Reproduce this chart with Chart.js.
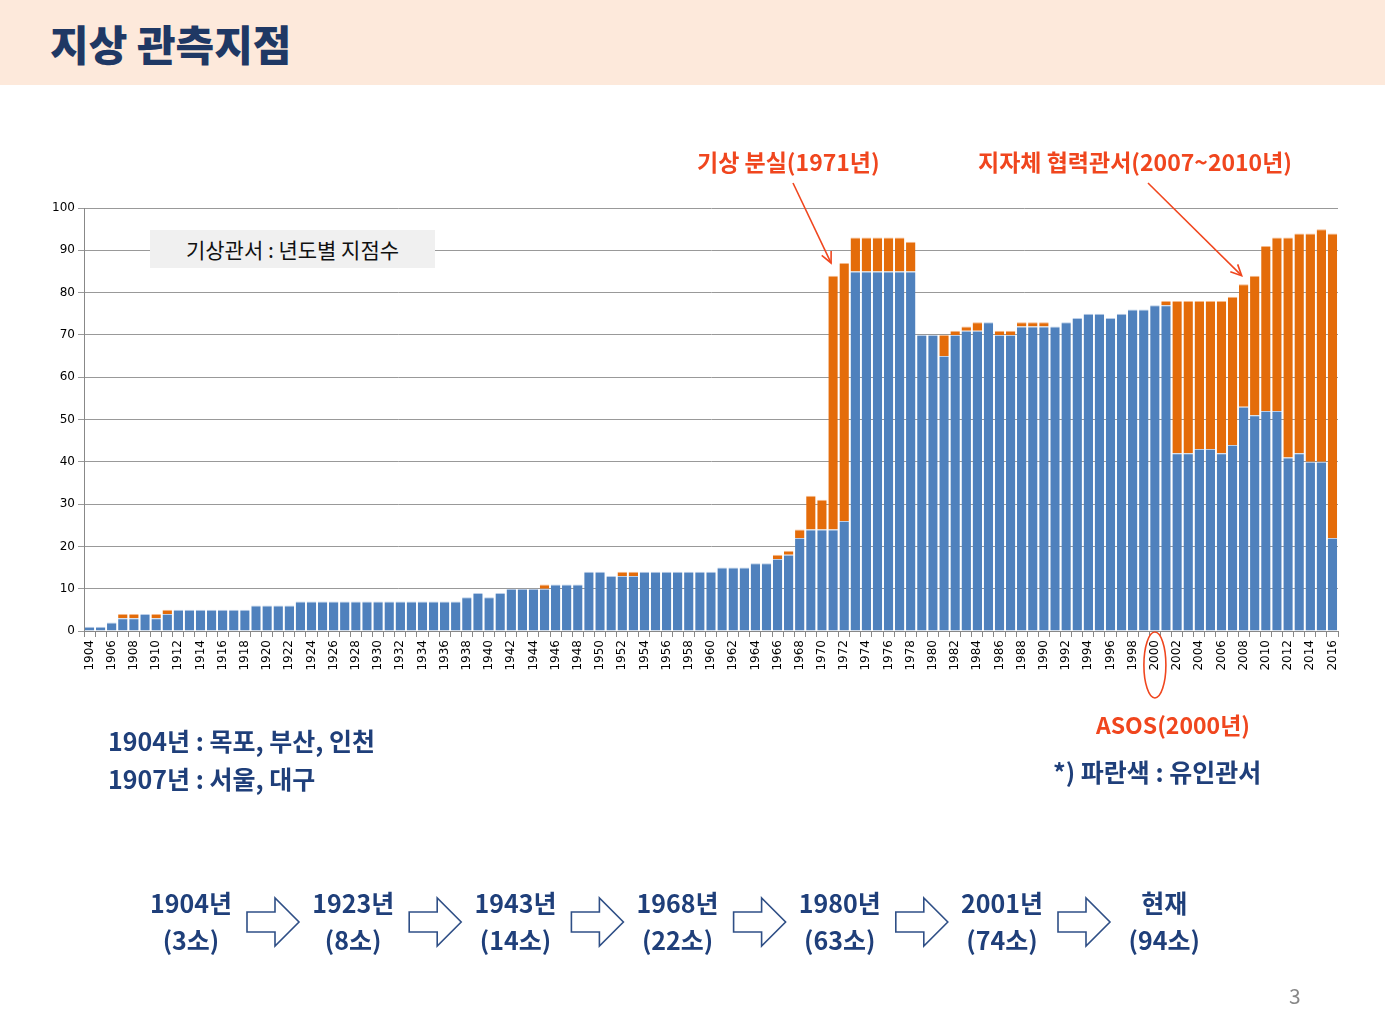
<!DOCTYPE html>
<html><head><meta charset="utf-8">
<script src="https://cdn.jsdelivr.net/npm/chart.js@4"></script>
<style>
body{margin:0;width:1385px;height:1035px;position:relative;background:#fff;font-family:"Noto Sans CJK KR",sans-serif;overflow:hidden}
#hdr{position:absolute;left:0;top:0;width:1385px;height:85px;background:#fde9db}
#hdr h1{margin:0;position:absolute;left:50px;top:12px;font-size:42px;color:#1f3864;font-weight:900}
canvas{position:absolute;left:0;top:0}
.t{position:absolute;white-space:nowrap}
.red{color:#f0461e;font-weight:700;font-size:23px}
.navy{color:#1f3f7a;font-weight:700;font-size:25px}
.step{position:absolute;width:120px;text-align:center;color:#1f3f7a;font-weight:700;font-size:25px;line-height:37px}
svg{position:absolute;left:0;top:0}
</style></head><body>
<div id="hdr"><h1>지상 관측지점</h1></div>
<canvas id="c" width="1385" height="1035"></canvas>
<div class="t" style="left:150px;top:230px;width:285px;height:38px;background:#f0f0f0;font-size:21px;line-height:38px;text-align:center;color:#111">기상관서 : 년도별 지점수</div>
<div class="t red" style="left:697px;top:144px">기상 분실(1971년)</div>
<div class="t red" style="left:978px;top:144px">지자체 협력관서(2007~2010년)</div>
<div class="t red" style="left:1096px;top:707px">ASOS(2000년)</div>
<div class="t navy" style="left:108px;top:722px">1904년 : 목포, 부산, 인천</div>
<div class="t navy" style="left:108px;top:760px">1907년 : 서울, 대구</div>
<div class="t navy" style="left:1053px;top:753px">*) 파란색 : 유인관서</div>
<div id="steps"></div>
<div class="t" style="left:1289px;top:980px;font-size:21px;color:#888">3</div>
<svg id="arr" width="1385" height="1035"></svg>
<script>
const years = [];
for (let y = 1904; y <= 2016; y++) years.push(String(y));

const manned = [1,1,2,3,3,4,3,4,5,5,5,5,5,5,5,6,6,6,6,
  7,7,7,7,7,7,7,7,7,7,7,7,7,7,7,8,9,8,9,10,10,10,10,11,11,11,
  14,14,13,13,13,14,14,14,14,14,14,14,15,15,15,16,16,17,18,22,24,24,24,26,
  85,85,85,85,85,85,70,70,65,70,71,71,73,70,70,72,72,72,72,73,74,75,75,74,75,76,76,77,77,
  42,42,43,43,42,44,53,51,52,52,41,42,40,40,22];
const others = [0,0,0,1,1,0,1,1,0,0,0,0,0,0,0,0,0,0,0,
  0,0,0,0,0,0,0,0,0,0,0,0,0,0,0,0,0,0,0,0,0,0,1,0,0,0,
  0,0,0,1,1,0,0,0,0,0,0,0,0,0,0,0,0,1,1,2,8,7,60,61,
  8,8,8,8,8,7,0,0,5,1,1,2,0,1,1,1,1,1,0,0,0,0,0,0,0,0,0,0,1,
  36,36,35,35,36,35,29,33,39,41,52,52,54,55,72];
const steps = [["1904년","(3소)"],["1923년","(8소)"],["1943년","(14소)"],["1968년","(22소)"],["1980년","(63소)"],["2001년","(74소)"],["현재","(94소)"]];

// bottom flow
const stepsEl = document.getElementById("steps");
let svgHtml = "";
steps.forEach((s, i) => {
    const cx = 191 + i * 162.2;
    stepsEl.innerHTML += `<div class="step" style="left:${cx - 60}px;top:884px">${s[0]}<br>${s[1]}</div>`;
    if (i < steps.length - 1) {
        const x = cx + 56, y = 922;
        svgHtml += `<path d="M${x} ${y-10} h28 v-14 l24 24 l-24 24 v-14 h-28 z" fill="#fff" stroke="#2f4f86" stroke-width="1.6"/>`;
    }
});

const overlay = {
    id: "overlay",
    afterDraw(ch) {
        const xs = ch.scales.x, ys = ch.scales.y;
        const arrow = (x1, y1, x2, y2) => {
            const a = Math.atan2(y2 - y1, x2 - x1);
            svgHtml += `<line x1="${x1}" y1="${y1}" x2="${x2}" y2="${y2}" stroke="#f0461e" stroke-width="1.6"/>`;
            svgHtml += `<polyline points="${x2 - 12*Math.cos(a-0.45)},${y2 - 12*Math.sin(a-0.45)} ${x2},${y2} ${x2 - 12*Math.cos(a+0.45)},${y2 - 12*Math.sin(a+0.45)}" fill="none" stroke="#f0461e" stroke-width="1.6"/>`;
        };
        arrow(793, 183, xs.getPixelForValue(years.indexOf("1971")) - 2, ys.getPixelForValue(87));
        arrow(1148, 183, xs.getPixelForValue(years.indexOf("2008")) - 2, ys.getPixelForValue(84));
        svgHtml += `<ellipse cx="${xs.getPixelForValue(years.indexOf("2000"))}" cy="665" rx="11" ry="33" fill="none" stroke="#f0461e" stroke-width="1.6"/>`;
        document.getElementById("arr").innerHTML = svgHtml;
    }
};

new Chart(document.getElementById("c"), {
    type: "bar",
    data: {
        labels: years,
        datasets: [
            { label: "유인관서", data: manned, backgroundColor: "#4f81bd", borderColor: "#b9cde8", borderWidth: {top:1,left:0,right:0,bottom:0}, barPercentage: 0.85, categoryPercentage: 1 },
            { label: "기타", data: others, backgroundColor: "#e46c0a", borderColor: "#f5b98a", borderWidth: {top:1,left:0,right:0,bottom:0}, barPercentage: 0.85, categoryPercentage: 1 }
        ]
    },
    options: {
        responsive: false,
        animation: false,
        layout: { padding: { top: 208, right: 47, left: 0, bottom: 0 } },
        plugins: { legend: { display: false }, tooltip: { enabled: false } },
        scales: {
            x: {
                stacked: true,
                afterFit: s => { s.height = 1035 - 208 - 423; },
                grid: { drawOnChartArea: false, drawTicks: true, tickLength: 6, color: "#888" },
                border: { color: "#888" },
                ticks: {
                    autoSkip: false, maxRotation: 90, minRotation: 90,
                    color: "#000", font: { family: "DejaVu Sans", size: 12 },
                    callback: (v, i) => (i % 2 === 0 ? years[i] : "")
                }
            },
            y: {
                stacked: true, min: 0, max: 100,
                afterFit: s => { s.width = 84; },
                grid: { color: "#999", tickLength: 6 },
                border: { color: "#888", dash: [] },
                ticks: { stepSize: 10, color: "#000", font: { family: "DejaVu Sans", size: 12 } }
            }
        }
    },
    plugins: [overlay, {
        id: "dash",
        beforeDraw(ch) { ch.options.scales.y.grid.borderDash = [2, 2]; }
    }]
});
</script>
</body></html>
